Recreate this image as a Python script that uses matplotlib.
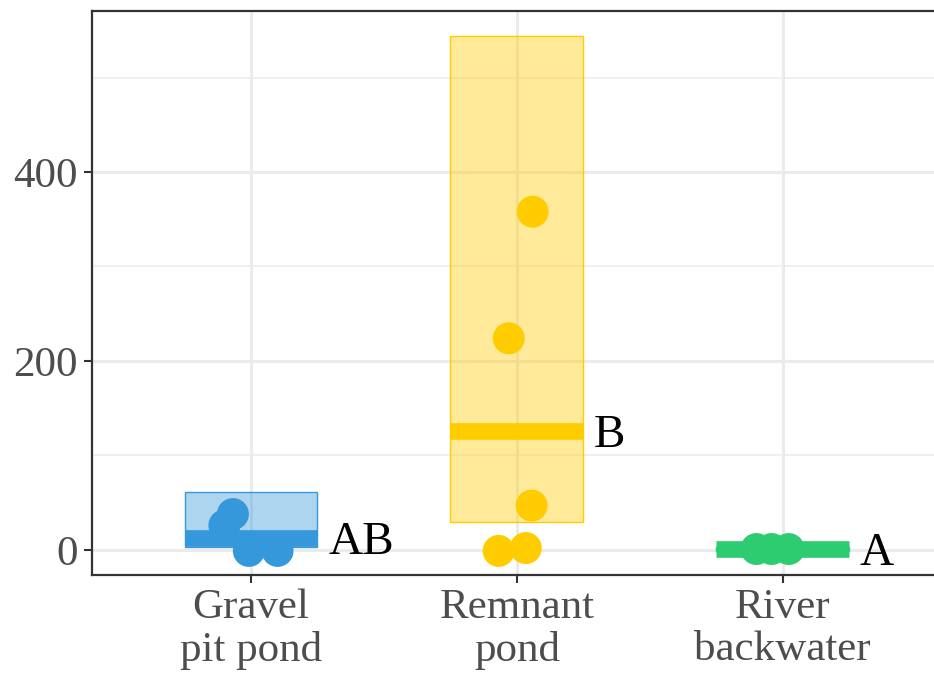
import matplotlib.pyplot as plt
from matplotlib.patches import Rectangle

plt.rcParams['font.family'] = ['Liberation Serif', 'DejaVu Serif']

categories = ['Gravel\npit pond', 'Remnant\npond', 'River\nbackwater']
colors = ['#3498db', '#ffcc00', '#2ecc71']
letters = ['AB', 'B', 'A']

# group means and interval bounds
means = [13, 126, 1]
ci_low = [3, 30, -1]
ci_high = [61, 544, 3]

# observations per group, with the jitter used for each dot
values = [
    [38, 26, -1, -1],
    [358, 224, 47, -1, 2],
    [1, 1, 1],
]
jitter = [
    [-0.068, -0.10, -0.008, 0.10],
    [0.06, -0.03, 0.056, -0.068, 0.034],
    [-0.098, -0.041, 0.023],
]

fig = plt.figure(figsize=(9.34, 6.73), dpi=100)
W, H = 934, 673
ax = fig.add_axes([91.5 / W, (H - 575) / H, (942 - 91.5) / W, (575 - 11) / H])

half = 0.25
for i, cat in enumerate(categories):
    x = i + 1
    c = colors[i]
    ax.add_patch(Rectangle((x - half, ci_low[i]), 2 * half, ci_high[i] - ci_low[i],
                           facecolor=c, alpha=0.4, edgecolor='none', zorder=2))
    ax.add_patch(Rectangle((x - half, ci_low[i]), 2 * half, ci_high[i] - ci_low[i],
                           facecolor='none', edgecolor=c, lw=1.0, zorder=2))
    ax.plot([x - half, x + half], [means[i], means[i]], color=c, lw=12,
            solid_capstyle='butt', zorder=3)
    xs = [x + j for j in jitter[i]]
    ax.scatter(xs, values[i], s=530, color=c, edgecolors='none', zorder=4)
    ax.text(x + 0.29, means[i], letters[i], fontsize=34, ha='left',
            va='center_baseline', color='black', zorder=5)

ax.set_xlim(0.4, 3.6)
ax.set_ylim(-26.5, 570.4)
ax.set_xticks([1, 2, 3])
ax.set_xticklabels(categories, linespacing=1.12)
ax.set_yticks([0, 200, 400])
ax.set_yticks([100, 300, 500], minor=True)

ax.grid(which='major', color='#ebebeb', lw=2.2, zorder=0)
ax.grid(which='minor', axis='y', color='#ebebeb', lw=1.1, zorder=0)
ax.set_axisbelow(True)

ax.tick_params(axis='both', which='major', labelsize=31, labelcolor='#4d4d4d',
               color='#333333', length=6, width=1.5, pad=4)
ax.tick_params(axis='both', which='minor', length=0)
for s in ax.spines.values():
    s.set_color('#333333')
    s.set_linewidth(1.6)

fig.savefig('out.png', dpi=100)
